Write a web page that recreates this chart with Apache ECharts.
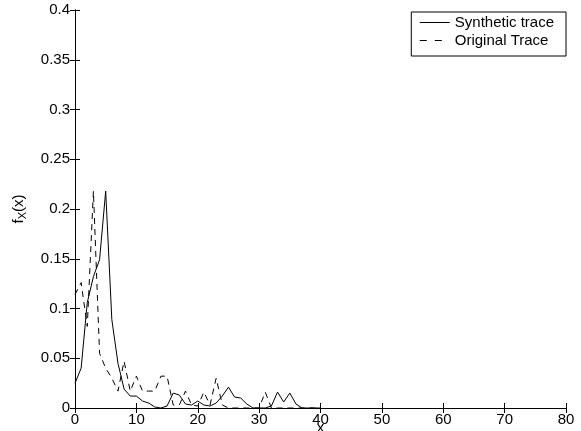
<!DOCTYPE html>
<html>
<head>
<meta charset="utf-8">
<script src="https://cdn.jsdelivr.net/npm/echarts@6/dist/echarts.min.js"></script>
<style>html,body{margin:0;padding:0;background:#fff;}#c{width:581px;height:431px;}</style>
</head>
<body>
<div id="c"></div>
<script>
var xValues = [0,1,2,3,4,5,6,7,8,9,10,11,12,13,14,15,16,17,18,19,20,21,22,23,24,25,26,27,28,29,30,31,32,33,34,35,36,37,38,39,40];
var synthetic = [0.025,0.040,0.106,0.132,0.149,0.218,0.089,0.045,0.019,0.012,0.012,0.007,0.005,0.001,0.0,0.002,0.015,0.013,0.004,0.003,0.007,0.003,0.002,0.005,0.012,0.021,0.011,0.010,0.004,0.0,0.0,0.0,0.002,0.016,0.006,0.015,0.004,0.0,0.0,0.0,0.0];
var original = [0.114,0.126,0.082,0.218,0.055,0.040,0.030,0.017,0.047,0.017,0.032,0.017,0.017,0.017,0.032,0.032,0.003,0.003,0.017,0.003,0.002,0.016,0.003,0.030,0.003,0.0,0.0,0.0,0.0,0.0,0.0,0.016,0.0,0.0,0.0,0.0,0.0,0.0,0.0,0.0,0.0];
var xTicks = {min:0, max:80, interval:10};
var yTicks = {min:0, max:0.4, interval:0.05};

function pairs(xs, ys){ return xs.map(function(x,i){ return [x, ys[i]]; }); }

var font = 'Liberation Sans, Arial, Helvetica, sans-serif';
var axisLine = {show:true, lineStyle:{color:'#000', width:1}};
var chart = echarts.init(document.getElementById('c'), null, {renderer:'canvas'});
chart.setOption({
  animation:false,
  backgroundColor:'#fff',
  grid:{left:75, right:15, top:10, bottom:23, containLabel:false, outerBoundsMode:'none'},
  legend:{
    orient:'vertical', right:15, top:12,
    backgroundColor:'#fff', borderColor:'#000', borderWidth:1,
    padding:[3,12,8,8], itemGap:3, itemWidth:30, itemHeight:14,
    itemStyle:{opacity:0},
    lineStyle:{width:1},
    textStyle:{fontFamily:font, fontSize:15, color:'#000'},
    data:[{name:'Synthetic trace'},{name:'Original Trace', lineStyle:{width:1, type:[7,8]}}]
  },
  xAxis:[{
    type:'value', min:xTicks.min, max:xTicks.max, interval:xTicks.interval,
    axisLine:axisLine, splitLine:{show:false},
    axisTick:{inside:true, length:5, lineStyle:{color:'#000'}},
    axisLabel:{color:'#000', fontFamily:font, fontSize:15, margin:4},
    name:'x', nameLocation:'middle', nameGap:12, nameMoveOverlap:false,
    nameTextStyle:{color:'#000', fontFamily:font, fontSize:15}
  },{
    type:'value', position:'top', min:xTicks.min, max:xTicks.max, interval:xTicks.interval,
    axisLine:axisLine, splitLine:{show:false},
    axisTick:{inside:true, length:5, lineStyle:{color:'#000'}},
    axisLabel:{show:false}
  }],
  yAxis:[{
    type:'value', min:yTicks.min, max:yTicks.max, interval:yTicks.interval,
    axisLine:axisLine, splitLine:{show:false},
    axisTick:{inside:true, length:5, lineStyle:{color:'#000'}},
    axisLabel:{color:'#000', fontFamily:font, fontSize:15, margin:5},
    name:'{f|f}{s|X}{f|(x)}', nameLocation:'middle', nameGap:47, nameRotate:90, nameMoveOverlap:false,
    nameTextStyle:{color:'#000', fontFamily:font, fontSize:15,
      rich:{f:{fontFamily:font, fontSize:15, color:'#000'}, s:{fontFamily:font, fontSize:11, color:'#000', padding:[8,0,0,0]}}}
  },{
    type:'value', position:'right', min:yTicks.min, max:yTicks.max, interval:yTicks.interval,
    axisLine:axisLine, splitLine:{show:false},
    axisTick:{inside:true, length:5, lineStyle:{color:'#000'}},
    axisLabel:{show:false}
  }],
  series:[{
    name:'Synthetic trace', type:'line', showSymbol:false, symbol:'none',
    data:pairs(xValues, synthetic),
    lineStyle:{color:'#000', width:1, type:'solid'}, itemStyle:{color:'#000'}
  },{
    name:'Original Trace', type:'line', showSymbol:false, symbol:'none',
    data:pairs(xValues, original),
    lineStyle:{color:'#000', width:1, type:[6,5]}, itemStyle:{color:'#000'}
  }]
});
</script>
</body>
</html>
